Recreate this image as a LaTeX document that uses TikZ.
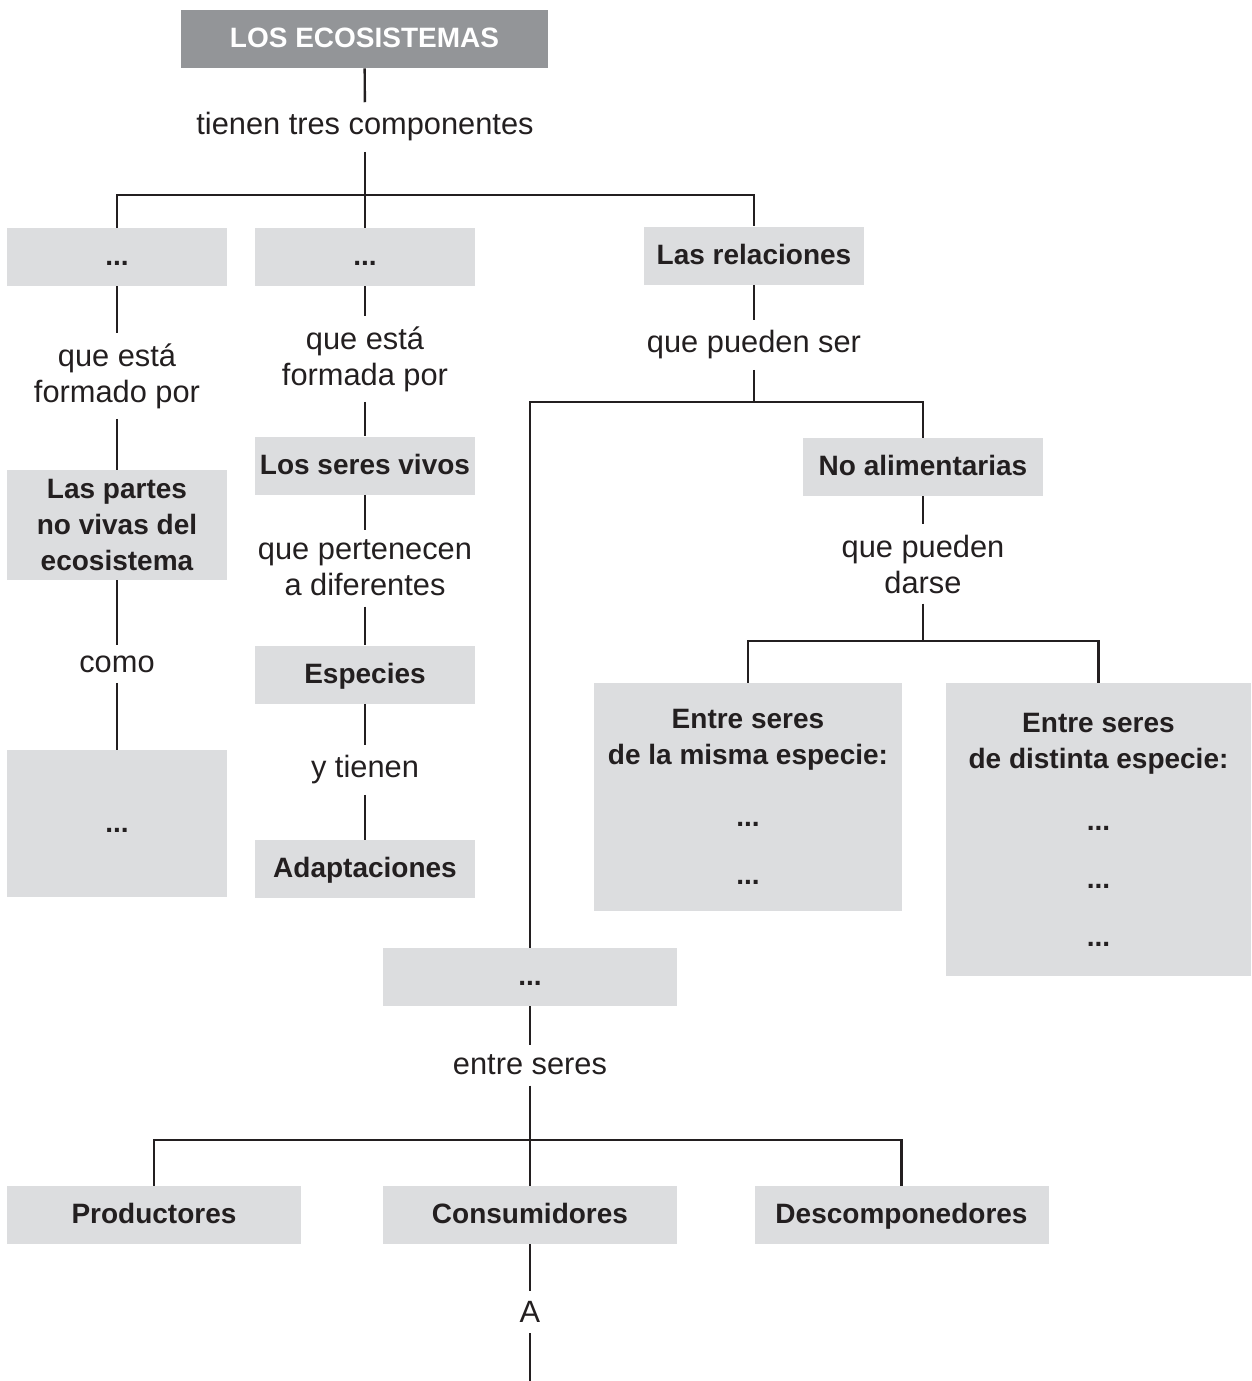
\documentclass[tikz,border=0pt]{standalone}
\usepackage{fontspec}
\setmainfont{Liberation Sans}
\definecolor{ecogray}{HTML}{939598}
\definecolor{boxgray}{HTML}{DCDDDF}
\definecolor{inkblack}{HTML}{231F20}
\tikzset{
	block/.style={
		fill=boxgray,
		text=inkblack,
		font=\bfseries\fontsize{14}{18}\selectfont,
		align=center,
		inner sep=0pt,
		minimum width=110pt,
		minimum height=29pt
	},
	concept/.style={
		block,
		text height=10pt,
		text depth=1.5pt
	},
	link/.style={
		text=inkblack,
		font=\fontsize{15.4}{18}\selectfont,
		align=center,
		inner xsep=0pt,
		inner ysep=5pt
	},
	wire/.style={
		color=inkblack,
		line width=1.2pt
	}
}
\begin{document}
\begin{tikzpicture}[x=0.5pt, y=-0.5pt]
	\useasboundingbox (0,0) rectangle (1252,1381);

	% title
	\node[concept, fill=ecogray, text=white, minimum width=183.5pt]
		(eco) at (364.5,39) {LOS ECOSISTEMAS};
	\node[link] (tienen) at (365,127) {tienen tres componentes};
	\coordinate (split1) at (365,195);

	% first row
	\node[concept] (abiotic) at (117,257) {...};
	\node[concept] (biotic) at (365,257) {...};
	\node[concept] (rel) at (754,255.5) {Las relaciones};

	\draw[wire] (eco) -- (tienen);
	\draw[wire] (tienen) -- (split1);
	\draw[wire] (abiotic.north) |- (split1) -| (rel.north);
	\draw[wire] (split1) -- (biotic.north);

	% parts that are not alive
	\node[link] (formado) at (117,376) {que está\\formado por};
	\node[block, minimum height=55pt]
		(partes) at (117,525) {Las partes\\no vivas del\\ecosistema};
	\node[link] (como) at (117,664) {como};
	\node[concept, minimum height=73.5pt]
		(ejemplos) at (117,823.5) {...};

	\draw[wire] (abiotic) -- (formado);
	\draw[wire] (formado) -- (partes);
	\draw[wire] (partes) -- (como);
	\draw[wire] (como) -- (ejemplos);

	% living beings
	\node[link] (formada) at (365,359) {que está\\formada por};
	\node[concept] (seres) at (365,465.5) {Los seres vivos};
	\node[link] (pertenecen) at (365,568) {que pertenecen\\a diferentes};
	\node[concept] (especies) at (365,674.5) {Especies};
	\node[link] (ytienen) at (365,770) {y tienen};
	\node[concept] (adapt) at (365,869) {Adaptaciones};

	\draw[wire] (biotic) -- (formada);
	\draw[wire] (formada) -- (seres);
	\draw[wire] (seres) -- (pertenecen);
	\draw[wire] (pertenecen) -- (especies);
	\draw[wire] (especies) -- (ytienen);
	\draw[wire] (ytienen) -- (adapt);

	% relations
	\node[link] (pueden) at (754,345) {que pueden ser};
	\coordinate (split2) at (754,402);
	\node[concept, minimum width=120pt] (noalim) at (923,467) {No alimentarias};
	\node[link] (darse) at (923,564) {que pueden\\darse};
	\coordinate (split3) at (923,641);
	\node[block, minimum width=154pt, minimum height=114pt]
		(misma) at (748,797)
		{Entre seres\\de la misma especie:\\[13pt]...\\[11pt]...};
	\node[block, minimum width=152.5pt, minimum height=146.5pt]
		(distinta) at (1098.5,829.5)
		{Entre seres\\de distinta especie:\\[13pt]...\\[11pt]...\\[11pt]...};
	\node[concept, minimum width=147pt] (alim) at (530,977) {...};

	\draw[wire] (rel) -- (pueden);
	\draw[wire] (pueden) -- (split2);
	\draw[wire] (alim.north) |- (split2) -| (noalim.north);
	\draw[wire] (noalim) -- (darse);
	\draw[wire] (darse) -- (split3);
	\draw[wire] (misma.north) |- (split3) -| (distinta.north);

	% food relations
	\node[link] (entre) at (530,1065) {entre seres};
	\coordinate (split4) at (530,1140);
	\node[concept, minimum width=147pt] (prod) at (154,1215) {Productores};
	\node[concept, minimum width=147pt] (cons) at (530,1215) {Consumidores};
	\node[concept, minimum width=147pt] (desc) at (901.5,1215) {Descomponedores};
	\node[link] (a) at (530,1312) {A};
	\coordinate (tail) at (530,1381);

	\draw[wire] (alim) -- (entre);
	\draw[wire] (entre) -- (split4);
	\draw[wire] (prod.north) |- (split4) -| (desc.north);
	\draw[wire] (split4) -- (cons.north);
	\draw[wire] (cons) -- (a);
	\draw[wire] (a) -- (tail);
\end{tikzpicture}
\end{document}
